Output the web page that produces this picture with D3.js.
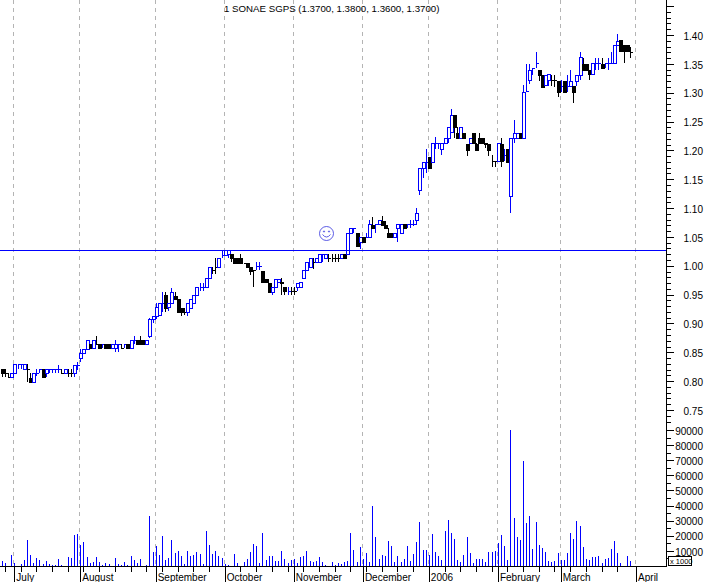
<!DOCTYPE html>
<html>
<head>
<meta charset="utf-8">
<script src="https://cdn.jsdelivr.net/npm/d3@7/dist/d3.min.js"></script>
<style>
html, body { margin: 0; padding: 0; background: #fff; }
svg { display: block; }
text { font-family: "Liberation Sans", Arial, sans-serif; font-size: 10px; fill: #000; }
</style>
</head>
<body>
<script>
// daily prices in cents, one entry per trading day from 30 June 2005
var opens = [
82.1,81.4,80.7,80.7,81.4,83,83,82.1,82.1,80.5,
79.9,81.5,82.1,82.1,81.4,82.1,82.1,82.1,82.1,81.4,
81.4,81.4,81.4,81.4,82.8,84,84.8,85.6,86.5,85.7,
86.5,86.5,86.5,86.5,86.5,85.7,85.7,86.5,85.7,86.5,
86.5,85.7,87.1,87.1,87.1,87.1,86.5,87.8,90.7,91.3,
91.4,93.5,94.9,92.8,93.5,94.8,94.2,92.75,92.05,92.05,
92.75,93.5,94.9,96.4,96.4,96.4,97.8,99.3,99.85,99.85,
101.9,101.9,102,102,101.3,101.3,101.3,100.55,100.55,99.7,
99.3,100,100,99.15,97.65,97,95.5,96.4,97.1,97.1,
96.4,95.6,95.6,95.6,96.4,96.4,97.8,99.3,99.85,100.7,
100.7,100.7,102,101.3,101.3,101.3,101.3,101.3,101.3,102,
102,105.7,106.5,105.7,104.2,104.9,105,105,107.1,107.25,
107.25,107.8,107.1,105.7,105.7,105,106.5,105.7,107.25,107.25,
107.25,107.25,108,113.1,117,118,118.9,118,121.2,121.2,
120.2,121.2,122.1,123.2,126.1,123.1,122.2,123.1,121.1,121.2,
123.1,121.1,122.1,122.1,121.2,121.1,118.2,118.2,118.2,121.1,
119.2,120.2,112.1,122.2,122.2,123.1,122.2,130.3,132.2,134.2,
135.1,134,133,131.3,132.2,132.2,132.2,132,131.2,132,
131.2,131.2,131.2,132.1,133,135,135,134,133.2,135.1,
135.1,135,135.1,135.1,135.1,135.1,138.3,139.1,138.3,138.3,
137];
var highs = [
82.1,82.1,81.4,81.4,83,83,83,83,83,81.4,
81.4,82.1,82.1,82.1,82.1,82.1,82.1,82.1,82.8,82.1,
82.1,82.1,82.1,82.8,83.4,85.6,85.6,87.1,86.5,87.1,
87.8,86.5,86.5,86.5,86.5,86.5,87.1,86.5,86.5,86.5,
86.5,87.1,87.8,87.1,87.8,87.1,87.1,91,91.3,93.5,
93.5,95.5,95.5,93.5,96.2,95.5,94.2,92.75,92.75,93.5,
94.2,94.9,96.4,97,97,97.8,99.85,99.85,101.3,101.3,
102.7,102.7,102.7,102,101.3,101.3,102,100.55,100.55,99.7,
99.3,100.7,100.7,99.15,97.65,97,96.4,97.65,97.65,97.8,
96.4,96.4,96.4,96.4,97,97.2,99.3,100.7,101.3,101.3,
101.3,102,102,102,102,102,102,102,102,102,
105.7,106.5,106.5,105.7,104.9,104.9,105.6,108,108.5,107.25,
107.95,108.6,107.8,106.5,105.7,105.7,107.25,107.25,107.25,107.25,
107.95,107.95,110,117,118,120.2,118.9,121.2,122.25,121.2,
121.2,122.1,124.1,127.1,126.1,124.1,124.1,123.1,121.1,122.2,
123.1,121.2,123.1,122.1,121.2,121.1,119.2,118.2,121.2,122.1,
120.2,120.2,122.2,125.3,123.1,123.1,131.3,135,135,134.2,
137.1,134,133,133,133.2,133,133,132,132.2,132,
133,134,131.2,133,137.1,136.1,135,134,135.1,136.1,
136.1,136.1,135.1,136.1,137.1,138.3,140.2,139.1,138.3,138.3,
138];
var lows = [
80.7,80.7,80.7,80.7,81.4,82.1,82.1,82.1,79.9,79.9,
79.9,80.9,81.4,80.7,80.7,81.4,81.4,81.4,81.4,81.4,
81.4,80.7,80.7,80.7,82,83.4,84.8,85.6,85.7,85.7,
86.5,85.7,85.7,85.7,85.7,85.7,85.1,85,85.7,85.7,
85.7,85.7,86.5,86.5,86.5,86.5,86.5,87.5,90,90.7,
91.4,92.05,92,92.2,93.5,94.2,92.05,91.3,91.5,91.3,
92.75,93.5,94.9,95.7,95.7,96.4,97.8,98.5,98.5,99.85,
101.3,101.9,101.3,100.7,100.55,100.55,100.55,100.55,99.85,98.4,
96.4,99.3,99.3,97.1,97.1,95.5,94.9,96.4,97.1,94.9,
94.9,94.9,94.9,94.9,95.6,96.4,97.8,99.3,99.85,99.4,
100.7,100.7,100.7,101.3,100.7,100.7,100.7,100.7,101.3,101.3,
102,105.7,105.7,103.4,102.85,104.2,104.9,105,106.5,105.7,
107.25,107.1,106.5,105,105,105,104.2,105.7,106.5,106.5,
106.5,106.9,107,112.3,115.15,116,117,118,120.2,120.2,
119.2,121.2,121.2,123.2,122.2,122.2,122.2,122.2,119,121.2,
121.2,120.1,121.2,121.2,120.5,119,117.2,117.2,118.2,117.2,
118.2,118,109.2,121.2,122.2,122.2,122.2,130.2,131.5,133,
134.2,132.1,131,131.3,131.2,131.2,131,129.2,130.2,130.2,
130.2,131.2,128.15,131.2,132.2,134,134,132.2,133.2,134,
134,134.2,134.2,134,135.1,135.1,138.3,137.3,135.2,137.3,
136];
var closes = [
81.4,81.38,80.68,81.4,83,83,83,83,82.08,79.9,
81.4,81.5,82.1,80.7,82.1,82.1,82.1,82.1,82.1,81.38,
82.1,81.38,81.38,82.8,82.8,84.8,85.6,87.1,85.7,87.1,
86.48,85.7,86.5,85.7,85.7,86.5,86.5,86.5,85.68,86.5,
85.7,87.1,87.1,86.5,86.5,86.5,87.1,90.7,91.3,92.9,
93.5,93.5,92.75,93.5,95.5,94.2,92.05,92.05,92.03,93.5,
94.2,94.9,96.4,96.4,96.4,97.8,99.85,99.28,99.83,101.3,
101.9,102.7,102.7,101.3,100.55,100.55,100.55,100.53,99.85,99.15,
99.28,100,100,97.1,97.1,95.5,96.4,97.65,97.65,97.08,
95.6,95.6,95.58,95.58,97,97.2,99.3,100.7,101.3,100.68,
101.3,102,102,102,101.28,101.28,101.28,101.28,102,101.3,
105.7,106.5,106.5,103.4,104.9,104.2,105,107.25,106.5,107.25,
107.95,107.1,106.5,105,105,105.7,107.25,107.25,106.5,107.25,
107.25,107.25,109.2,117,117.9,118,117,121.2,121.2,121.2,
121.2,122.1,124.1,126.1,124.1,122.2,124.1,122.2,120.1,122.2,
121.2,120.1,121.2,121.2,121.18,120.1,118.18,118.18,121.2,118.2,
119.2,118,122.2,123.1,123.1,122.2,130.2,130.3,133.9,134.2,
135.1,133,131,133,133.2,132.18,132.18,130.2,131.2,130.2,
131.2,132,130.2,133,136.2,134,134,133.2,135.1,135.1,
135.1,134.2,135.1,135.1,135.1,138.3,139,137.3,137.3,137.3,
136.98];
// traded volume, thousands of shares
var volumes = [
3.5,2.2,0,7.5,2.2,0,1.5,4.2,17.4,7.5,
2.2,5.5,4.2,1.5,3.5,1.5,0.7,0.7,4.9,0.9,
0,6.2,5.5,20.8,21.4,14.1,16.1,6.2,2.2,2.9,
6.2,2.9,0.9,2.2,1.5,0,5.5,1.5,0.9,2.9,
0.9,6.8,4.2,2.2,4.9,0,0.9,33.3,9.5,13.5,
7.5,20.1,4.2,5.5,17.4,8.8,10.2,6.8,1.5,10.2,
6.8,7.5,9.5,8.2,1.5,23.4,14.1,8.2,10.2,6.8,
5.5,1.5,0.9,0,8.2,2.2,0,2.9,4.9,9.5,
14.8,13.5,2.2,22.1,4.2,6.8,6.8,3.5,3.5,10.2,
4.9,2.2,4.2,4.9,2.2,6.2,6.8,10.2,3.5,2.9,
3.5,6.2,2.9,0.9,0,2.9,0.9,2.2,1.5,2.9,
3.5,22.1,10.8,2.9,12.8,4.9,8.8,2.9,40,19.4,
4.9,7.5,6.8,16.8,13.5,2.9,6.8,2.9,4.9,13.5,
3.5,8.2,16.1,29.4,10.8,10.8,7.5,21.4,9.5,6.8,
4.2,23.4,30.7,22.1,18.1,4.2,2.9,7.5,19.4,8.8,
2,4.6,4.6,4.6,2.6,9.3,9.3,9.9,15.2,20.5,
13.2,4,90,31.8,19.2,17.2,69.5,28.5,33.1,11.3,
29.1,13.9,11.9,9.3,3.3,2.6,3.3,8.6,4,4,
8.6,21.9,17.9,29.8,26.5,12.6,4.6,4,6,6,
6.6,2,4.6,5.3,11.3,16.6,8.6,2,0,6.6,
3.3];

var monthLabels = ["July", "August", "September", "October", "November", "December", "2006", "February", "March", "April"];
var monthDays = [4, 25, 49, 71, 93, 115, 136, 158, 178, 202];
var priceLabels = [0.75, 0.80, 0.85, 0.90, 0.95, 1.00, 1.05, 1.10, 1.15, 1.20, 1.25, 1.30, 1.35, 1.40];
var volumeLabels = [10000, 20000, 30000, 40000, 50000, 60000, 70000, 80000, 90000];
var titleText = "1 SONAE SGPS (1.3700, 1.3800, 1.3600, 1.3700)";
var markerLevel = 1.0275;

var width = 707, height = 582, axisX = 666.5, baseY = 566;

var svg = d3.select("body").append("svg")
    .attr("width", width)
    .attr("height", height);

var x = d3.scaleLinear().domain([0, 200]).range([1.8, 629.8]);
var y = d3.scaleLinear().domain([0.75, 1.40]).range([410, 35]);
var yVol = d3.scaleLinear().domain([0, 90000]).range([baseY, 430]);

function px(v) { return Math.round(v) + 0.5; }

// month grid, dashed all the way up
svg.append("g").selectAll("line")
    .data(monthDays)
    .enter().append("line")
    .attr("x1", function (d) { return px(x(d)) - 1; })
    .attr("x2", function (d) { return px(x(d)) - 1; })
    .attr("y1", 0)
    .attr("y2", baseY)
    .attr("stroke", "#b4b4b4")
    .attr("stroke-dasharray", "4,4")
    .attr("shape-rendering", "crispEdges");

// candles
var days = d3.range(opens.length);
function candleColor(i) { return closes[i] < opens[i] ? "#000" : "#0000ff"; }

var candles = svg.append("g").attr("shape-rendering", "crispEdges");
candles.selectAll(".wick")
    .data(days)
    .enter().append("line")
    .attr("class", "wick")
    .attr("x1", function (i) { return px(x(i)); })
    .attr("x2", function (i) { return px(x(i)); })
    .attr("y1", function (i) { return y(highs[i] / 100); })
    .attr("y2", function (i) { return y(lows[i] / 100); })
    .attr("stroke", candleColor);

candles.selectAll(".body")
    .data(days)
    .enter().append("path")
    .attr("class", "body")
    .attr("d", function (i) {
        var cx = px(x(i)),
            top = px(y(Math.max(opens[i], closes[i]) / 100)),
            bot = px(y(Math.min(opens[i], closes[i]) / 100));
        return "M" + (cx - 1) + "," + top + "H" + (cx + 2) + "V" + bot + "H" + (cx - 1) + "Z";
    })
    .attr("fill", function (i) { return closes[i] < opens[i] ? "#000" : "#fff"; })
    .attr("stroke", candleColor);

// marker line and the smiley above it
svg.append("line")
    .attr("x1", 0).attr("x2", axisX)
    .attr("y1", px(y(markerLevel))).attr("y2", px(y(markerLevel)))
    .attr("stroke", "#0000ff")
    .style("stroke", "#0000ff")
    .attr("shape-rendering", "crispEdges");

var smile = svg.append("g").attr("transform", "translate(326.5,233.5)")
    .attr("fill", "none").attr("stroke", "#3333dd").attr("stroke-width", 0.8);
smile.append("circle").attr("r", 7);
smile.append("circle").attr("cx", -2.5).attr("cy", -2).attr("r", 0.6);
smile.append("circle").attr("cx", 2.5).attr("cy", -2).attr("r", 0.6);
smile.append("path").attr("d", "M-4,1 Q0,6 4,1");

// volume bars
svg.append("g").selectAll("line")
    .data(days.filter(function (i) { return volumes[i] > 0; }))
    .enter().append("line")
    .attr("x1", function (i) { return px(x(i)); })
    .attr("x2", function (i) { return px(x(i)); })
    .attr("y1", baseY)
    .attr("y2", function (i) { return yVol(volumes[i] * 1000); })
    .attr("stroke", "#0000ff")
    .attr("shape-rendering", "crispEdges");

// bottom axis: weekly stubs and tall month ticks
var bottom = svg.append("g").attr("transform", "translate(0," + (baseY + 0.5) + ")");
bottom.append("g")
    .call(d3.axisBottom(x).tickValues(d3.range(1, 201, 5)).tickSize(5).tickFormat(""));
var months = bottom.append("g")
    .call(d3.axisBottom(x).tickValues(monthDays).tickSize(16).tickFormat(function (d, i) { return monthLabels[i]; }));
months.selectAll("text")
    .attr("text-anchor", "start")
    .attr("x", 1.5)
    .attr("y", 7)
    .attr("dy", "0.71em");
bottom.selectAll(".domain").remove();
bottom.selectAll("line").attr("shape-rendering", "crispEdges");
svg.append("line")
    .attr("x1", 0).attr("x2", axisX).attr("y1", baseY + 0.5).attr("y2", baseY + 0.5)
    .attr("stroke", "#000").attr("shape-rendering", "crispEdges");

// right axis: price on top, volume underneath, both on the same line
var right = svg.append("g").attr("transform", "translate(" + axisX + ",0)");
right.append("g")
    .call(d3.axisRight(y).tickValues(d3.range(74, 146).map(function (d) { return d / 100; })).tickSize(4).tickFormat(""));
right.append("g")
    .call(d3.axisRight(y).tickValues(priceLabels.concat([1.45])).tickSize(7).tickFormat(function (d) { return d < 1.42 ? d3.format(".2f")(d) : ""; }));
right.append("g")
    .call(d3.axisRight(yVol).tickValues(d3.range(5000, 100000, 5000)).tickSize(4).tickFormat(""));
right.append("g")
    .call(d3.axisRight(yVol).tickValues(volumeLabels).tickSize(7).tickFormat(d3.format("d")));
right.selectAll(".domain").remove();
right.selectAll("line").attr("shape-rendering", "crispEdges");
right.selectAll("text")
    .attr("text-anchor", "end")
    .attr("x", 703 - axisX)
    .attr("dy", "0.42em");
svg.append("line")
    .attr("x1", axisX).attr("x2", axisX).attr("y1", 0).attr("y2", baseY + 1)
    .attr("stroke", "#000").attr("shape-rendering", "crispEdges");

// x 1000 scale box
svg.append("rect")
    .attr("x", 668.5).attr("y", 556.5).attr("width", 23).attr("height", 9)
    .attr("fill", "#fff").attr("stroke", "#000").attr("shape-rendering", "crispEdges");
svg.append("text")
    .attr("x", 670).attr("y", 564)
    .style("font-size", "7.5px")
    .text("x 1000");

svg.append("text")
    .attr("x", 224).attr("y", 12)
    .style("font-size", "9.7px")
    .text(titleText);
</script>
</body>
</html>
